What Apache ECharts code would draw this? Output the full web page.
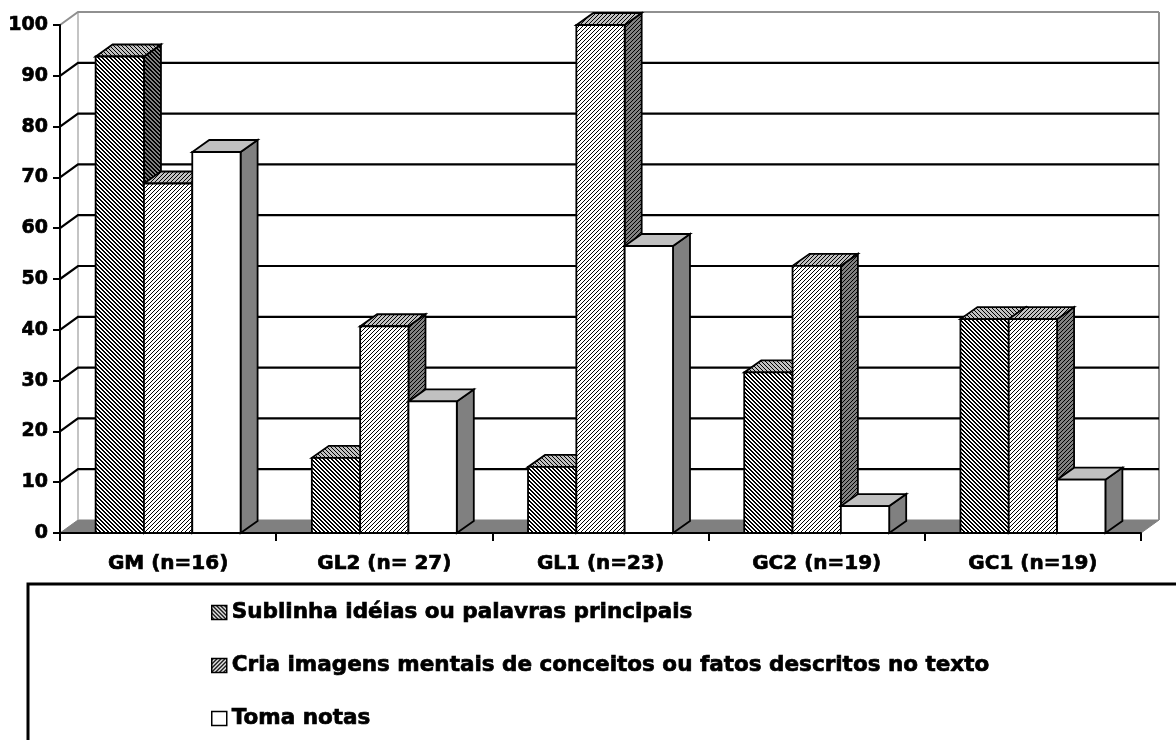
<!DOCTYPE html>
<html><head><meta charset="utf-8">
<script src="https://cdn.jsdelivr.net/npm/echarts@6/dist/echarts.min.js"></script>
<style>html,body{margin:0;padding:0;background:#fff}#c{width:1176px;height:740px}</style>
</head><body><div id="c"></div>
<script>
const categories = ['GM (n=16)', 'GL2 (n= 27)', 'GL1 (n=23)', 'GC2 (n=19)', 'GC1 (n=19)'];
const seriesNames = ['Sublinha idéias ou palavras principais', 'Cria imagens mentais de conceitos ou fatos descritos no texto', 'Toma notas'];
const sublinha = [93.8, 14.8, 13.0, 31.6, 42.1];
const cria = [68.8, 40.7, 100, 52.6, 42.1];
const tomaNotas = [75, 25.9, 56.5, 5.3, 10.5];
const yTicks = [0, 10, 20, 30, 40, 50, 60, 70, 80, 90, 100];

const FONT = 'DejaVu Sans';
const DX = 17, DY = -12;   // bar depth offset
const WX = 18, WY = -13;   // wall depth offset

// pixel-exact diagonal hatch tile
function hatch(bg, fg, dir, period, on) {
  const c = document.createElement('canvas');
  c.width = period; c.height = period;
  const g = c.getContext('2d');
  const img = g.createImageData(period, period);
  const hex = s => [parseInt(s.substr(1, 2), 16), parseInt(s.substr(3, 2), 16), parseInt(s.substr(5, 2), 16)];
  const B = hex(bg), F = hex(fg);
  for (let y = 0; y < period; y++) for (let x = 0; x < period; x++) {
    const k = dir === '/' ? (x + y) % period : ((x - y) % period + period) % period;
    const col = k < on ? F : B;
    const i = (y * period + x) * 4;
    img.data[i] = col[0]; img.data[i + 1] = col[1]; img.data[i + 2] = col[2]; img.data[i + 3] = 255;
  }
  g.putImageData(img, 0, 0);
  return { image: c, repeat: 'repeat' };
}

const pats = [
  { front: hatch('#ffffff', '#000000', '\\', 4, 2), top: hatch('#c0c0c0', '#000000', '\\', 4, 1), side: hatch('#808080', '#000000', '\\', 4, 2) },
  { front: hatch('#ffffff', '#000000', '/', 4, 1), top: hatch('#c0c0c0', '#000000', '/', 4, 1), side: hatch('#808080', '#000000', '/', 4, 1) },
  { front: '#ffffff', top: '#c0c0c0', side: '#808080' }
];
const legendIcons = [hatch('#ffffff', '#000000', '\\', 4, 2), hatch('#ffffff', '#000000', '/', 4, 2), '#ffffff'];

function barRender(sIdx) {
  const p = pats[sIdx];
  return function (params, api) {
    const cat = api.value(0), v = api.value(1);
    const base = api.coord([cat, 0]);
    const top = api.coord([cat, v]);
    const cw = api.size([1, 0])[0];
    const bw = cw * 0.2235;
    const x0 = base[0] - cw / 2 + cw * 0.1648 + sIdx * bw;
    const x1 = x0 + bw;
    const yT = top[1], yB = base[1];
    const ls = { stroke: '#000', lineWidth: 1.8, lineJoin: 'miter' };
    return {
      type: 'group', children: [
        { type: 'polygon', shape: { points: [[x1, yT], [x1 + DX, yT + DY], [x1 + DX, yB + DY], [x1, yB]] }, style: Object.assign({ fill: p.side }, ls) },
        { type: 'polygon', shape: { points: [[x0, yT], [x1, yT], [x1 + DX, yT + DY], [x0 + DX, yT + DY]] }, style: Object.assign({ fill: p.top }, ls) },
        { type: 'rect', shape: { x: x0, y: yT, width: bw, height: yB - yT }, style: Object.assign({ fill: p.front }, ls) }
      ]
    };
  };
}

function frameRender(params, api) {
  const v = api.value(0);
  const cw = api.size([1, 0])[0];
  const pL = api.coord([0, v]);
  const pR = api.coord([categories.length - 1, v]);
  const xL = pL[0] - cw / 2, xR = pR[0] + cw / 2, y = pL[1];
  const children = [];
  if (v === 0) {
    const yTop = api.coord([0, yTicks[yTicks.length - 1]])[1];
    children.push({ type: 'polygon', shape: { points: [[xL, y], [xR, y], [xR + WX, y + WY], [xL + WX, y + WY]] }, style: { fill: '#808080', stroke: '#808080', lineWidth: 1 } });
    children.push({ type: 'line', shape: { x1: xL + WX, y1: y + WY, x2: xL + WX, y2: yTop + WY }, style: { stroke: '#b0b0b0', lineWidth: 1.5 } });
    children.push({ type: 'line', shape: { x1: xR + WX, y1: y + WY, x2: xR + WX, y2: yTop + WY }, style: { stroke: '#909090', lineWidth: 2 } });
  } else if (v === yTicks[yTicks.length - 1]) {
    children.push({ type: 'polyline', shape: { points: [[xL, y], [xL + WX, y + WY], [xR + WX, y + WY]] }, style: { stroke: '#909090', lineWidth: 2, fill: null } });
  } else {
    children.push({ type: 'polyline', shape: { points: [[xL, y], [xL + WX, y + WY], [xR + WX, y + WY]] }, style: { stroke: '#000', lineWidth: 2.2, fill: null } });
  }
  return { type: 'group', children: children };
}

const chart = echarts.init(document.getElementById('c'), null, { renderer: 'canvas' });
const valueSets = [sublinha, cria, tomaNotas];
const barSeries = valueSets.map((vals, i) => ({
  type: 'custom',
  name: seriesNames[i],
  renderItem: barRender(i),
  data: vals.map((v, j) => [j, v]),
  encode: { x: 0, y: 1 },
  itemStyle: { color: legendIcons[i], borderColor: '#000', borderWidth: 1.5 },
  silent: true,
  z: 3
}));

const txt = { color: '#000', fontFamily: FONT, fontWeight: 'bold', textBorderColor: '#000', textBorderWidth: 0.7 };

chart.setOption({
  animation: false,
  backgroundColor: '#fff',
  grid: { left: 60, right: 35, top: 25, bottom: 207 },
  xAxis: {
    type: 'category', data: categories, z: 10,
    axisLine: { lineStyle: { color: '#000', width: 2 } },
    axisTick: { show: true, length: 8, lineStyle: { color: '#000', width: 2 } },
    axisLabel: Object.assign({ fontSize: 20, margin: 21 }, txt),
    splitLine: { show: false }
  },
  yAxis: {
    type: 'value', min: 0, max: 100, interval: 10, z: 10,
    axisLine: { show: true, lineStyle: { color: '#000', width: 2 } },
    axisTick: { show: true, length: 7, lineStyle: { color: '#000', width: 2 } },
    axisLabel: Object.assign({ fontSize: 19, margin: 12 }, txt),
    splitLine: { show: false }
  },
  legend: {
    orient: 'vertical', left: 211, top: 600, padding: 0,
    data: seriesNames.map((n, i) => ({ name: n, icon: 'rect', itemStyle: { color: legendIcons[i], borderColor: '#000', borderWidth: 1.5 } })),
    itemWidth: 15, itemHeight: 14, itemGap: 28,
    textStyle: Object.assign({ fontSize: 21.5, lineHeight: 25 }, txt),
    selectedMode: false
  },
  graphic: [
    { type: 'rect', shape: { x: 28, y: 584, width: 1170, height: 180 }, style: { fill: 'none', stroke: '#000', lineWidth: 3 }, z: 1 }
  ],
  series: [
    { type: 'custom', name: 'frame', renderItem: frameRender, data: yTicks.map(v => [v]), encode: { y: 0 }, silent: true, z: 1 }
  ].concat(barSeries)
});
</script>
</body></html>
